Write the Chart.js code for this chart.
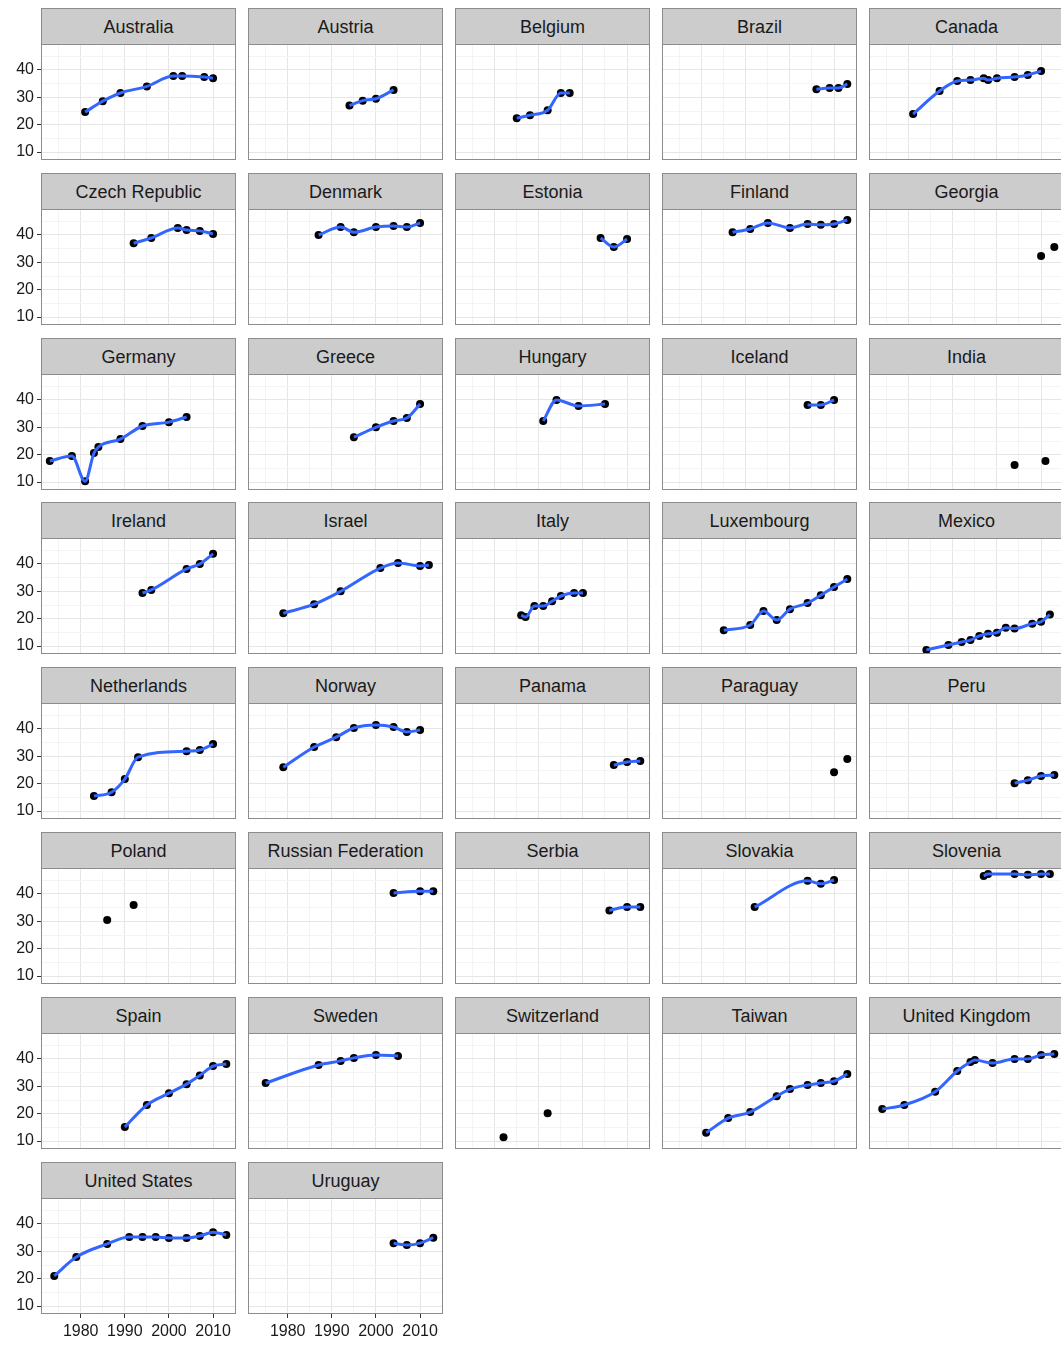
<!DOCTYPE html>
<html>
<head>
<meta charset="utf-8">
<script src="https://cdn.jsdelivr.net/npm/chart.js@4.4.1/dist/chart.umd.min.js"></script>
<style>
  body { margin: 0; background: #fff; font-family: "Liberation Sans", Arial, sans-serif; }
  #wrap { position: relative; width: 1061px; height: 1345px; overflow: hidden; }
  .strip { position: absolute; background: #cccccc; border: 1px solid #8c8c8c; box-sizing: border-box;
           text-align: center; font-size: 18px; color: #1a1a1a; line-height: 36px; }
  .frame { position: absolute; border: 1px solid #8c8c8c; box-sizing: border-box; pointer-events: none; }
  canvas { position: absolute; }
</style>
</head>
<body>
<div id="wrap"></div>
<script>
// Countries in facet order (5 columns)
const countries = ['Australia', 'Austria', 'Belgium', 'Brazil', 'Canada',
  'Czech Republic', 'Denmark', 'Estonia', 'Finland', 'Georgia',
  'Germany', 'Greece', 'Hungary', 'Iceland', 'India',
  'Ireland', 'Israel', 'Italy', 'Luxembourg', 'Mexico',
  'Netherlands', 'Norway', 'Panama', 'Paraguay', 'Peru',
  'Poland', 'Russian Federation', 'Serbia', 'Slovakia', 'Slovenia',
  'Spain', 'Sweden', 'Switzerland', 'Taiwan', 'United Kingdom',
  'United States', 'Uruguay'];

// Survey years per country
const years = [
  [1981, 1985, 1989, 1995, 2001, 2003, 2008, 2010],
  [1994, 1997, 2000, 2004],
  [1985, 1988, 1992, 1995, 1997],
  [2006, 2009, 2011, 2013],
  [1981, 1987, 1991, 1994, 1997, 1998, 2000, 2004, 2007, 2010],
  [1992, 1996, 2002, 2004, 2007, 2010],
  [1987, 1992, 1995, 2000, 2004, 2007, 2010],
  [2004, 2007, 2010],
  [1987, 1991, 1995, 2000, 2004, 2007, 2010, 2013],
  [2010, 2013],
  [1973, 1978, 1981, 1983, 1984, 1989, 1994, 2000, 2004],
  [1995, 2000, 2004, 2007, 2010],
  [1991, 1994, 1999, 2005],
  [2004, 2007, 2010],
  [2004, 2011],
  [1994, 1996, 2004, 2007, 2010],
  [1979, 1986, 1992, 2001, 2005, 2010, 2012],
  [1986, 1987, 1989, 1991, 1993, 1995, 1998, 2000],
  [1985, 1991, 1994, 1997, 2000, 2004, 2007, 2010, 2013],
  [1984, 1989, 1992, 1994, 1996, 1998, 2000, 2002, 2004, 2008, 2010, 2012],
  [1983, 1987, 1990, 1993, 2004, 2007, 2010],
  [1979, 1986, 1991, 1995, 2000, 2004, 2007, 2010],
  [2007, 2010, 2013],
  [2010, 2013],
  [2004, 2007, 2010, 2013],
  [1986, 1992],
  [2004, 2010, 2013],
  [2006, 2010, 2013],
  [1992, 2004, 2007, 2010],
  [1997, 1998, 2004, 2007, 2010, 2012],
  [1990, 1995, 2000, 2004, 2007, 2010, 2013],
  [1975, 1987, 1992, 1995, 2000, 2005],
  [1982, 1992],
  [1981, 1986, 1991, 1997, 2000, 2004, 2007, 2010, 2013],
  [1974, 1979, 1986, 1991, 1994, 1995, 1999, 2004, 2007, 2010, 2013],
  [1974, 1979, 1986, 1991, 1994, 1997, 2000, 2004, 2007, 2010, 2013],
  [2004, 2007, 2010, 2013]
];

// Values per country
const values = [
  [24.6, 28.6, 31.6, 34.0, 37.8, 37.8, 37.4, 37.0],
  [27.0, 28.8, 29.5, 32.7],
  [22.4, 23.5, 25.3, 31.6, 31.6],
  [33.0, 33.4, 33.4, 34.9],
  [23.9, 32.3, 36.0, 36.3, 37.0, 36.3, 37.0, 37.4, 38.2, 39.6],
  [37.0, 38.9, 42.6, 41.8, 41.5, 40.4],
  [40.0, 42.9, 41.0, 42.9, 43.3, 42.9, 44.4],
  [38.9, 35.6, 38.5],
  [41.0, 42.2, 44.4, 42.6, 44.0, 43.7, 44.0, 45.5],
  [32.3, 35.6],
  [17.7, 19.5, 10.3, 20.6, 22.8, 25.7, 30.5, 31.9, 33.8],
  [26.4, 30.0, 32.3, 33.4, 38.5],
  [32.3, 40.0, 37.8, 38.5],
  [38.2, 38.2, 40.0],
  [16.2, 17.7],
  [29.4, 30.5, 38.2, 40.0, 43.7],
  [22.0, 25.3, 30.0, 38.5, 40.4, 39.3, 39.6],
  [21.3, 20.6, 24.6, 24.6, 26.4, 28.3, 29.4, 29.4],
  [15.8, 17.7, 22.8, 19.5, 23.5, 25.7, 28.6, 31.6, 34.5],
  [8.6, 10.4, 11.5, 12.2, 13.7, 14.5, 14.9, 16.7, 16.4, 18.2, 18.9, 21.5],
  [15.5, 16.9, 21.7, 29.7, 31.9, 32.3, 34.5],
  [26.0, 33.4, 37.0, 40.4, 41.5, 40.7, 38.9, 39.6],
  [26.8, 27.9, 28.3],
  [24.2, 29.0],
  [20.2, 21.3, 22.8, 23.2],
  [30.5, 36.0],
  [40.4, 41.0, 41.0],
  [34.0, 35.2, 35.2],
  [35.2, 44.8, 43.7, 45.1],
  [46.6, 47.3, 47.3, 47.0, 47.3, 47.3],
  [15.1, 23.2, 27.5, 30.8, 34.0, 37.4, 38.2],
  [31.2, 37.8, 39.3, 40.4, 41.5, 41.1],
  [11.4, 20.2],
  [13.0, 18.4, 20.6, 26.4, 29.0, 30.5, 31.2, 31.9, 34.5],
  [21.7, 23.2, 28.0, 35.6, 38.9, 39.6, 38.5, 40.0, 40.0, 41.5, 41.8],
  [21.0, 27.9, 32.7, 35.2, 35.2, 35.2, 34.9, 34.9, 35.6, 37.0, 36.0],
  [33.0, 32.3, 33.0, 35.0]
];

// Grid / tick positions (major every 10, minor every 5)
const xTicks = [1975, 1980, 1985, 1990, 1995, 2000, 2005, 2010, 2015];
const yTicks = [10, 15, 20, 25, 30, 35, 40, 45];

const wrap = document.getElementById('wrap');
const panelW = 195, plotH = 116, stripH = 37;
const leftAxisW = 41, bottomAxisH = 30;

// Force axis size and drop the label overhang padding so plot areas line up
function fixAxis(s, size, horizontal) {
    if (horizontal) s.height = size; else s.width = size;
    s.paddingTop = 0; s.paddingBottom = 0; s.paddingLeft = 0; s.paddingRight = 0;
}

countries.forEach(function(name, i) {
    const col = i % 5, row = Math.floor(i / 5);
    const left = 41 + col * 207;
    const top = Math.round(8 + row * 164.8);
    const hasY = col === 0;
    const showXLabels = row === 7;

    const strip = document.createElement('div');
    strip.className = 'strip';
    strip.style.left = left + 'px';
    strip.style.top = top + 'px';
    strip.style.width = panelW + 'px';
    strip.style.height = stripH + 'px';
    strip.textContent = name;
    wrap.appendChild(strip);

    const cw = panelW + (hasY ? leftAxisW : 0);
    const chH = plotH + (showXLabels ? bottomAxisH : 0);
    const canvas = document.createElement('canvas');
    canvas.width = cw;
    canvas.height = chH;
    canvas.style.width = cw + 'px';
    canvas.style.height = chH + 'px';
    canvas.style.left = (left - (hasY ? leftAxisW : 0)) + 'px';
    canvas.style.top = (top + stripH - 1) + 'px';
    wrap.appendChild(canvas);

    const frame = document.createElement('div');
    frame.className = 'frame';
    frame.style.left = left + 'px';
    frame.style.top = (top + stripH - 1) + 'px';
    frame.style.width = panelW + 'px';
    frame.style.height = plotH + 'px';
    wrap.appendChild(frame);

    const pts = years[i].map((y, k) => ({ x: y, y: values[i][k] }));
    const datasets = [];
    if (pts.length > 2) {
        datasets.push({
            data: pts, showLine: true, borderColor: '#3366ff', borderWidth: 3,
            pointRadius: 0, cubicInterpolationMode: 'monotone', fill: false
        });
    }
    datasets.push({
        data: pts, showLine: false, pointRadius: 4, pointBackgroundColor: '#000',
        pointBorderWidth: 0
    });

    const gridColor = ctx => (ctx.tick && ctx.tick.value % 10 === 0) ? '#e6e6e6' : '#f4f4f4';
    const tickCol = show => (ctx => (show && ctx.tick && ctx.tick.value % 10 === 0) ? '#333' : 'rgba(0,0,0,0)');

    new Chart(canvas, {
        type: 'scatter',
        data: { datasets: datasets },
        options: {
            responsive: false,
            maintainAspectRatio: false,
            devicePixelRatio: 1,
            animation: false,
            layout: { padding: 0, autoPadding: false },
            plugins: { legend: { display: false }, tooltip: { enabled: false } },
            scales: {
                x: {
                    type: 'linear', min: 1971, max: 2015.2,
                    afterBuildTicks: s => { s.ticks = xTicks.map(v => ({ value: v })); },
                    afterFit: s => fixAxis(s, showXLabels ? bottomAxisH : 0, true),
                    border: { display: false },
                    grid: { color: gridColor, lineWidth: 1, drawTicks: showXLabels, tickLength: 4, tickColor: tickCol(showXLabels) },
                    ticks: {
                        display: showXLabels, maxRotation: 0, autoSkip: false, padding: 4,
                        color: '#1a1a1a', font: { size: 16, family: 'Liberation Sans' },
                        callback: v => (v % 10 === 0 && v >= 1980 && v <= 2010) ? String(v) : ''
                    }
                },
                y: {
                    type: 'linear', min: 7.1, max: 49.5,
                    afterBuildTicks: s => { s.ticks = yTicks.map(v => ({ value: v })); },
                    afterFit: s => fixAxis(s, hasY ? leftAxisW : 0, false),
                    border: { display: false },
                    grid: { color: gridColor, lineWidth: 1, drawTicks: hasY, tickLength: 4, tickColor: tickCol(hasY) },
                    ticks: {
                        display: hasY, autoSkip: false, padding: 3,
                        color: '#1a1a1a', font: { size: 16, family: 'Liberation Sans' },
                        callback: v => (v % 10 === 0 && v <= 40) ? String(v) : ''
                    }
                }
            }
        }
    });
});
</script>
</body>
</html>
